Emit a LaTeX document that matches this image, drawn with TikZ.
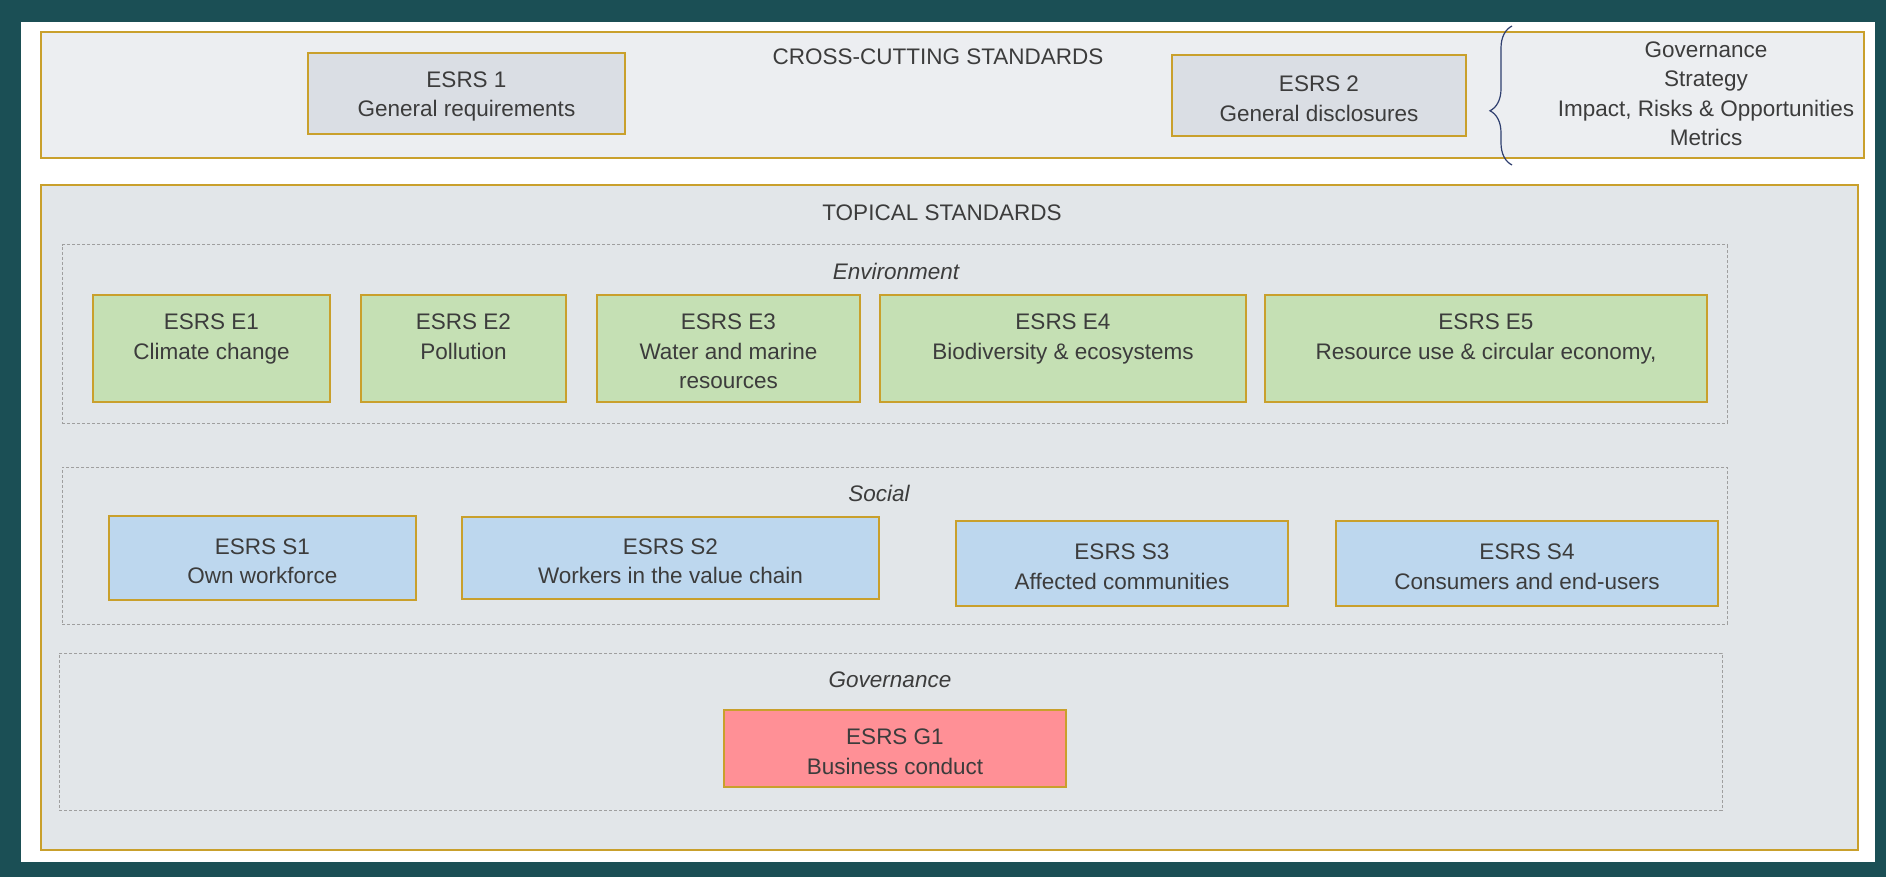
\documentclass[tikz,border=0pt]{standalone}
\usepackage{fontspec}
\setmainfont{Liberation Sans}
\usetikzlibrary{fit,decorations.pathreplacing}
\definecolor{frameteal}{HTML}{1B4F55}
\definecolor{boxgold}{HTML}{C9A02C}
\definecolor{crossbg}{HTML}{ECEEF1}
\definecolor{topbg}{HTML}{E2E6E9}
\definecolor{greybox}{HTML}{DADEE4}
\definecolor{greenbox}{HTML}{C5E0B4}
\definecolor{bluebox}{HTML}{BDD7EE}
\definecolor{redbox}{HTML}{FF9096}
\definecolor{txt}{HTML}{3C3C3C}
\definecolor{bracecol}{HTML}{2F3F6F}
\newcommand\mytopstrut{\rule{0pt}{11pt}}
\begin{document}
\begin{tikzpicture}[x=0.5pt,y=-0.5pt,
  stdfont/.style={font=\fontsize{11.25}{14.75}\selectfont, text=txt},
  std/.style={draw=boxgold, line width=1.1pt, inner sep=0pt, align=center, stdfont},
  stdbox/.style 2 args={std, minimum width=#1, minimum height=#2},
  group/.style={draw=gray!75, line width=0.5pt, dash pattern=on 1.6pt off 0.9pt, inner sep=0pt},
  title/.style={stdfont, inner sep=0pt},
  ititle/.style={font=\fontsize{11.25}{14.75}\selectfont\itshape, text=txt, inner sep=0pt}]
\useasboundingbox (0,0) rectangle (1886,877);
\fill[frameteal] (0,0) rectangle (1886,877);
\fill[white] (21,22) rectangle (1875,862);

% cross-cutting
\node[std, fill=crossbg, fit={(41,32) (1864,158)}] (cross) {};
\node[title] (crosst) at (938,57) {CROSS-CUTTING STANDARDS};
\node[stdbox={158.5pt}{40.5pt}, fill=greybox] (esrs1) at (466.5,93.5) {\mytopstrut ESRS 1\\General requirements};
\node[stdbox={147pt}{40.5pt}, fill=greybox] (esrs2) at (1319,95.5) {\mytopstrut ESRS 2\\General disclosures};
\coordinate (bb) at (1512,165);
\coordinate (bt) at (1512,26);
\draw[bracecol, line width=0.6pt, decorate, decoration={brace, amplitude=11pt, aspect=0.39}] (bb) -- (bt);
\node[title, align=center] (pillars) at (1706,94) {Governance\\Strategy\\Impact, Risks \& Opportunities\\Metrics};

% topical
\node[std, fill=topbg, fit={(41,185) (1858,850)}] (topical) {};
\node[title] (topt) at (942,213) {TOPICAL STANDARDS};

\node[group, fit={(62,245) (1727,423)}] (env) {};
\node[ititle] (envt) at (896,271) {Environment};
\node[stdbox={118.5pt}{53.5pt}, fill=greenbox] (e1) at (211.5,348.5) {\mytopstrut ESRS E1\\Climate change\\\mbox{}};
\node[stdbox={102.5pt}{53.5pt}, fill=greenbox] (e2) at (463.5,348.5) {\mytopstrut ESRS E2\\Pollution\\\mbox{}};
\node[stdbox={131.5pt}{53.5pt}, fill=greenbox] (e3) at (728.5,348.5) {\mytopstrut ESRS E3\\Water and marine\\resources};
\node[stdbox={183pt}{53.5pt}, fill=greenbox] (e4) at (1063,348.5) {\mytopstrut ESRS E4\\Biodiversity \& ecosystems\\\mbox{}};
\node[stdbox={221pt}{53.5pt}, fill=greenbox] (e5) at (1486,348.5) {\mytopstrut ESRS E5\\Resource use \& circular economy,\\\mbox{}};

\node[group, fit={(62,467) (1727,624)}] (soc) {};
\node[ititle] (soct) at (879,493) {Social};
\node[stdbox={153.5pt}{42pt}, fill=bluebox] (s1) at (262.5,558) {\mytopstrut ESRS S1\\Own workforce};
\node[stdbox={208.5pt}{41pt}, fill=bluebox] (s2) at (670.5,558) {\mytopstrut ESRS S2\\Workers in the value chain};
\node[stdbox={166pt}{42.5pt}, fill=bluebox] (s3) at (1122,563.5) {\mytopstrut ESRS S3\\Affected communities};
\node[stdbox={191pt}{42.5pt}, fill=bluebox] (s4) at (1527,563.5) {\mytopstrut ESRS S4\\Consumers and end-users};

\node[group, fit={(59,653) (1722,810)}] (gov) {};
\node[ititle] (govt) at (890,680) {Governance};
\node[stdbox={171pt}{38.5pt}, fill=redbox] (g1) at (895,748.5) {\mytopstrut ESRS G1\\Business conduct};
\end{tikzpicture}
\end{document}
